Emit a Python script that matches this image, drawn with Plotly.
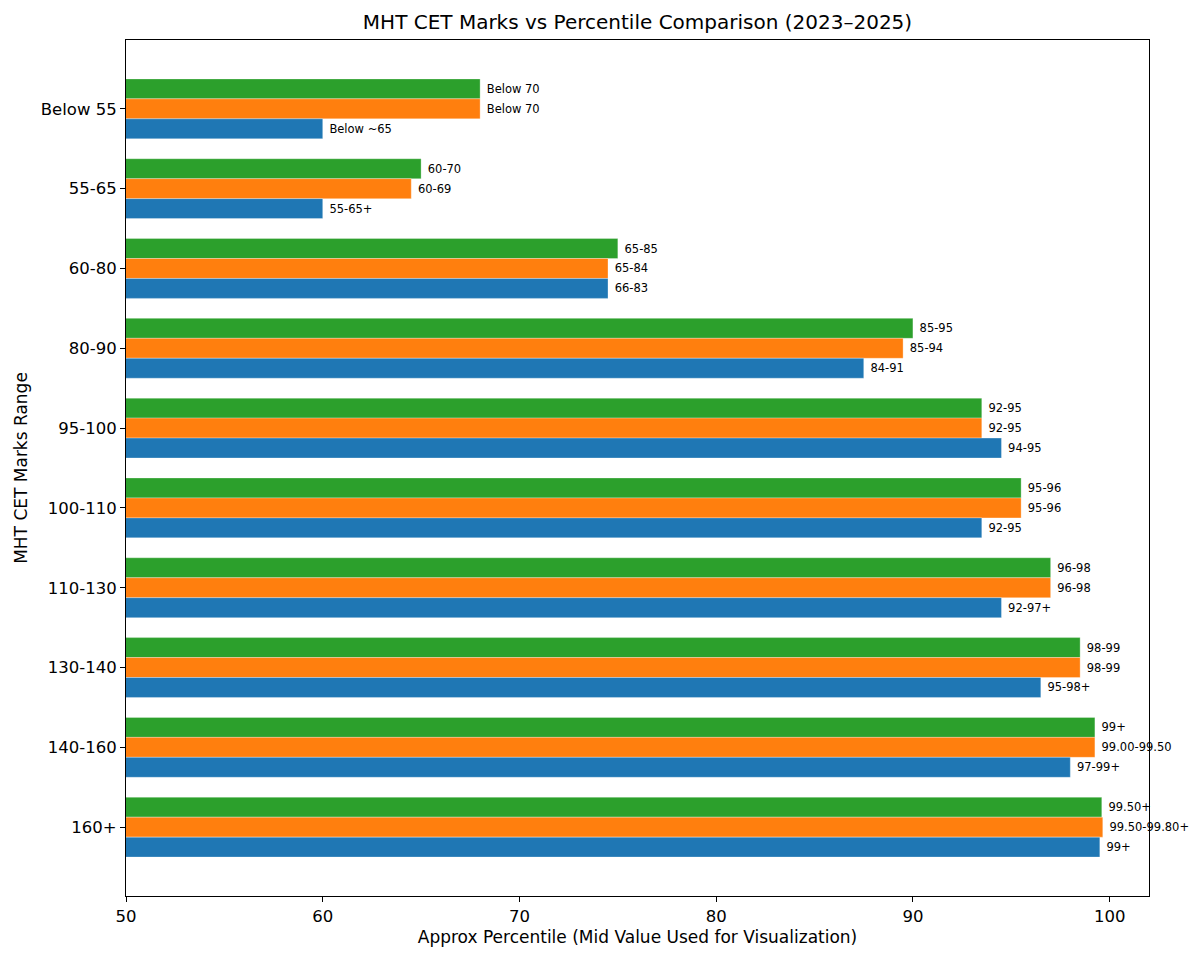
import plotly.graph_objects as go

# 점수 구간 (위에서 아래 순서)
MARK_RANGES = [
    "Below 55", "55-65", "60-80", "80-90", "95-100",
    "100-110", "110-130", "130-140", "140-160", "160+",
]

# 시각화용 중간값 (백분위)
PCT_2023 = [60, 60, 74.5, 87.5, 94.5, 93.5, 94.5, 96.5, 98, 99.5]
PCT_2024 = [68, 64.5, 74.5, 89.5, 93.5, 95.5, 97, 98.5, 99.25, 99.65]
PCT_2025 = [68, 65, 75, 90, 93.5, 95.5, 97, 98.5, 99.25, 99.6]

# 막대 옆 라벨 (실제 백분위 구간)
LABELS_2023 = ["Below ~65", "55-65+", "66-83", "84-91", "94-95",
               "92-95", "92-97+", "95-98+", "97-99+", "99+"]
LABELS_2024 = ["Below 70", "60-69", "65-84", "85-94", "92-95",
               "95-96", "96-98", "98-99", "99.00-99.50", "99.50-99.80+"]
LABELS_2025 = ["Below 70", "60-70", "65-85", "85-95", "92-95",
               "95-96", "96-98", "98-99", "99+", "99.50+"]

X_RANGE = [50, 102]

FONT = "DejaVu Sans"

# 역순 축에서 먼저 추가한 trace가 위쪽에 놓임
series = [
    ("2025", PCT_2025, LABELS_2025, "#2ca02c"),
    ("2024", PCT_2024, LABELS_2024, "#ff7f0e"),
    ("2023", PCT_2023, LABELS_2023, "#1f77b4"),
]

fig = go.Figure()
for name, vals, labels, color in series:
    fig.add_trace(go.Bar(
        x=vals,
        y=MARK_RANGES,
        orientation="h",
        name=name,
        marker=dict(color=color, line=dict(color="rgba(255,255,255,0.6)", width=0.5)),
        text=[" " + t for t in labels],
        textposition="outside",
        textfont=dict(family=FONT, size=11.5, color="black"),
        constraintext="none",
        cliponaxis=False,
        showlegend=False,
    ))

n = len(MARK_RANGES)
fig.update_layout(
    width=1200,
    height=960,
    barmode="group",
    bargap=0.25,
    bargroupgap=0,
    plot_bgcolor="white",
    paper_bgcolor="white",
    font=dict(family=FONT, size=16.5, color="black"),
    title=dict(
        text="MHT CET Marks vs Percentile Comparison (2023–2025)",
        x=0.5, xref="paper", y=0.985, yanchor="middle",
        font=dict(family=FONT, size=20, color="black"),
    ),
    margin=dict(l=118, r=59, t=32, b=72),
    uniformtext=dict(mode=False),
)
fig.update_xaxes(
    range=X_RANGE,
    dtick=10,
    ticks="outside",
    ticklen=5,
    tickcolor="black",
    showline=True,
    linecolor="black",
    linewidth=1,
    mirror=True,
    showgrid=False,
    zeroline=False,
    tickfont=dict(size=16.5),
    title=dict(text="Approx Percentile (Mid Value Used for Visualization)", font=dict(size=17), standoff=6),
)
fig.update_yaxes(
    categoryorder="array",
    categoryarray=MARK_RANGES,
    range=[n - 1 + 0.8625, -0.8625],
    ticks="outside",
    ticklen=5,
    tickcolor="black",
    showline=True,
    linecolor="black",
    linewidth=1,
    mirror=True,
    showgrid=False,
    zeroline=False,
    tickfont=dict(size=16.5),
    title=dict(text="MHT CET Marks Range", font=dict(size=17), standoff=8),
)

fig.write_html("out.html")
